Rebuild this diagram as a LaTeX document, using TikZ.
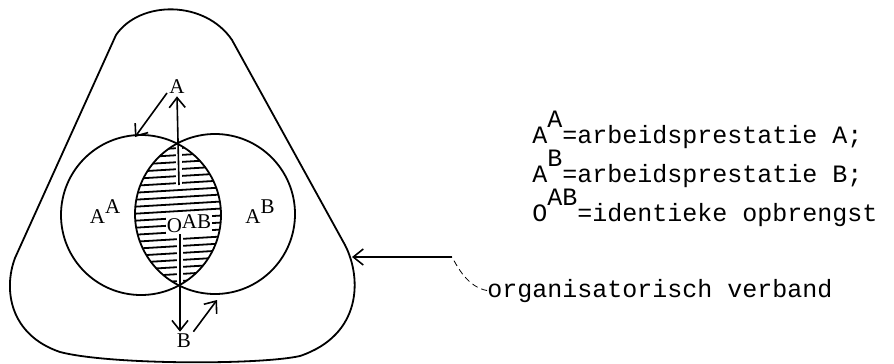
\documentclass[tikz,border=0pt]{standalone}
\usepackage{fontspec}
\setmainfont{Liberation Serif}
\setmonofont{Liberation Mono}
\usetikzlibrary{arrows.meta}

\begin{document}
\begin{tikzpicture}[x=0.5pt,y=-0.5pt]
    \tikzset{
      Rand/.style={line width=0.9pt},
      Pijl/.style={line width=0.8pt, -{Straight Barb[length=5pt,width=8pt]}},
      Label/.style={font=\fontsize{10.5}{12}\selectfont, inner sep=1pt},
      Legenda/.style={font=\fontsize{12.5}{14}\selectfont\ttfamily, anchor=base west, inner sep=0pt},
      Arcering/.style={line width=0.9pt}
    }
    \useasboundingbox (0,0) rectangle (894,364);

    % organisatorisch verband
    \draw[Rand] (15,258) -- (116,35) .. controls (140,0) and (205,0) .. (232,40)
       -- (345,245) .. controls (362,278) and (362,335) .. (300,356)
       .. controls (260,365) and (110,365) .. (60,352)
       .. controls (10,335) and (3,290) .. (15,258);

    % arcering van de doorsnede
    \begin{scope}
      \clip (141,215) circle[radius=80];
      \clip (215,214) circle[radius=80];
      \foreach \y in {141,148,...,292}
        \draw[Arcering] (130,\y+3) -- (230,\y-3);
    \end{scope}

    \node[Label] (A) at (177,87) {A};
    \node[Label] (B) at (184,341) {B};
    \node[Label] (AA) at (105,212) {A\raisebox{5pt}{A}};
    \node[Label] (AB) at (260,212) {A\raisebox{5pt}{B}};
    \node[Label, fill=white, inner sep=0.5pt] (OAB) at (189,224) {O\raisebox{2pt}{AB}};

    \coordinate (Oboven) at (179,185);
    \coordinate (Oonder) at (180,234);
    \coordinate (vanA) at (167,93);
    \coordinate (naarA) at (135,137);
    \coordinate (naarB) at (217,300);
    \coordinate (buig) at (452,257);
    \coordinate (rand) at (352,257);

    % open plekken in de arcering
    \draw[white, line width=3pt] (Oboven) -- (Oboven |- A.south);
    \draw[white, line width=3pt] (Oonder) -- (Oonder |- B.north);

    \draw[Rand] (141,215) circle[radius=80];
    \draw[Rand] (215,214) circle[radius=80];

    \draw[Pijl] (Oboven) -- (A.south);
    \draw[Pijl] (Oonder) -- (B.north -| Oonder);
    \draw[Pijl] (vanA) -- (naarA);
    \draw[Pijl] (B.north east) -- (naarB);

    \node[Legenda] (legA) at (532,143) {A\raisebox{8pt}{A}=arbeidsprestatie A;};
    \node[Legenda] (legB) at (532,182) {A\raisebox{8pt}{B}=arbeidsprestatie B;};
    \node[Legenda] (legO) at (532,221) {O\raisebox{8pt}{AB}=identieke opbrengst};
    \node[Legenda] (verband) at (487,297) {organisatorisch verband};

    \draw[Pijl] (buig) -- (rand);
    \draw[densely dashed, line width=0.4pt] (verband.west) .. controls (468,287) and (458,268) .. (buig);
\end{tikzpicture}
\end{document}
